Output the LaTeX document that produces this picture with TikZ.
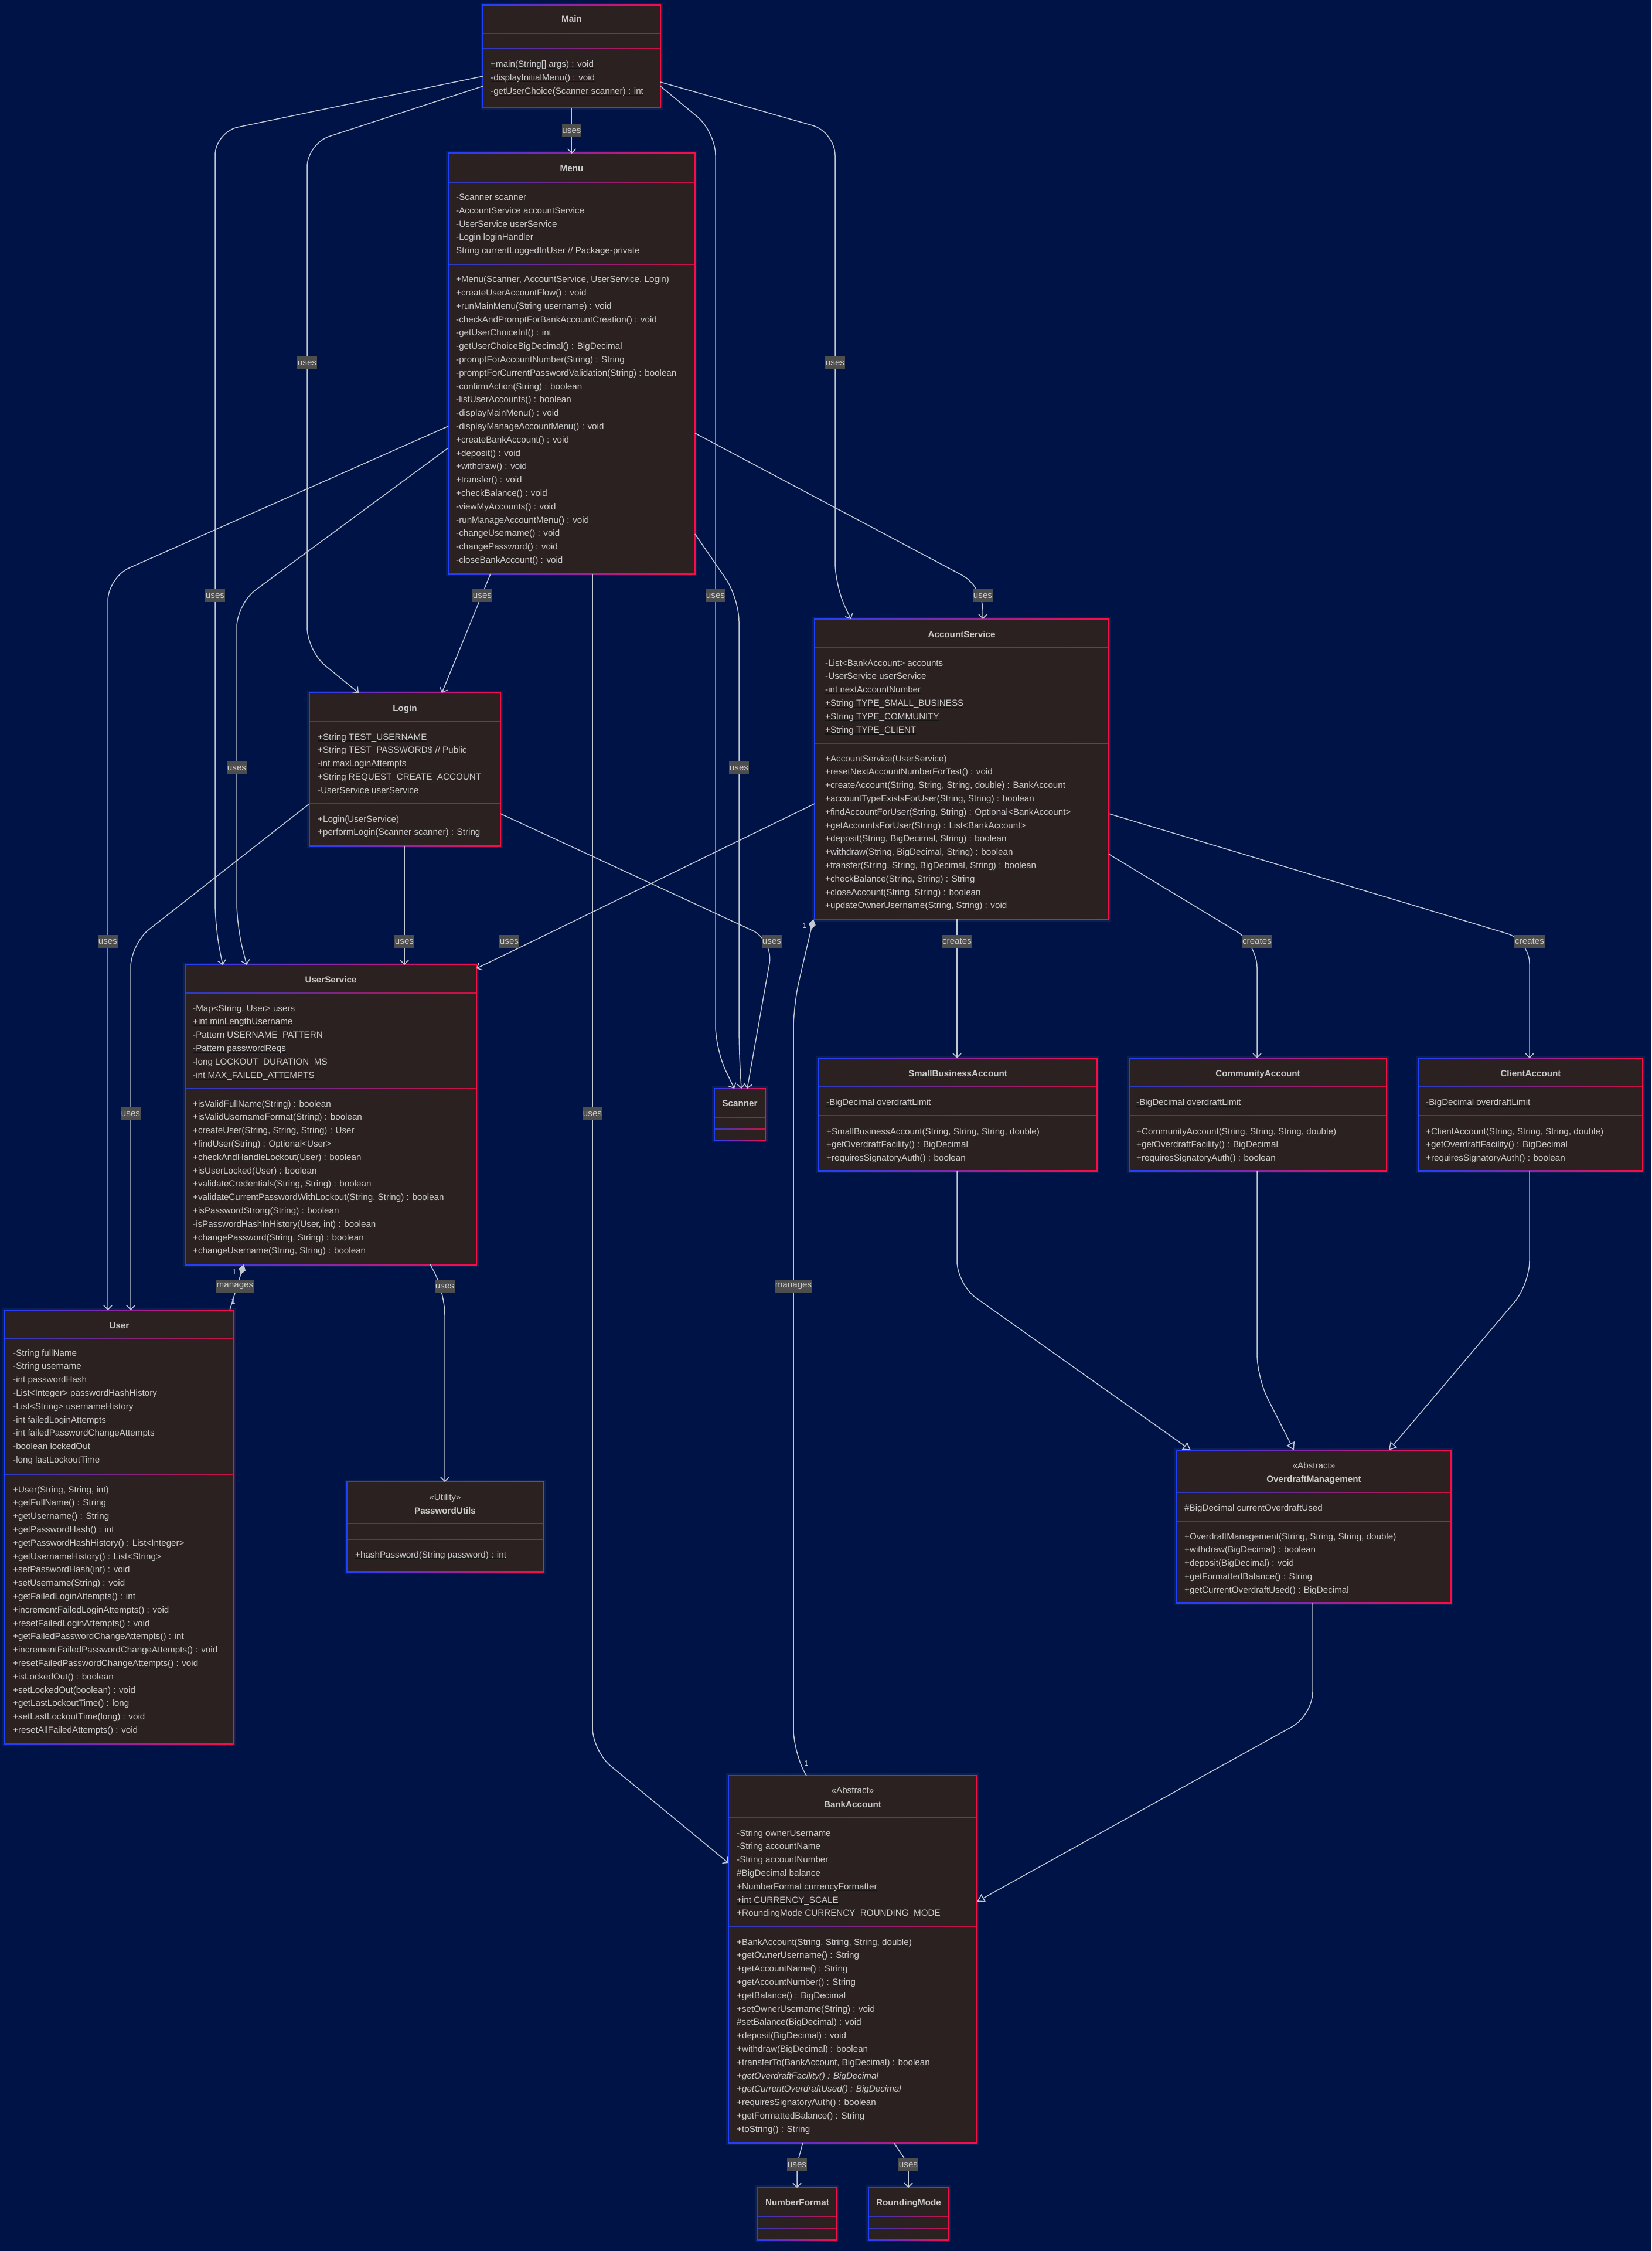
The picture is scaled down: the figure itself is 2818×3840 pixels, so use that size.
\documentclass[tikz,border=0pt]{standalone}
\usepackage{fontspec}
\setmainfont{Liberation Sans}
\usetikzlibrary{arrows.meta}

\definecolor{bg}{HTML}{001346}
\definecolor{boxbg}{HTML}{2B2121}
\definecolor{bordL}{HTML}{1E40FF}
\definecolor{bordR}{HTML}{FF0A46}
\definecolor{divL}{HTML}{2A3CC8}
\definecolor{divR}{HTML}{D0103E}
\definecolor{txt}{HTML}{CCCCCC}
\definecolor{linec}{HTML}{C4C8D0}
\definecolor{lblbg}{HTML}{4D4D4D}
\definecolor{ulc}{HTML}{151515}

\newcommand\mfont{\fontsize{15.2}{22.8}\selectfont}
\newcommand\bfont{\fontsize{15.2}{22.8}\selectfont\bfseries}
\newcommand\smfont{\fontsize{13}{15}\selectfont}

% one member line, a static (underlined) one, an abstract (italic) one
\newcommand\mem[1]{\hbox{#1}}
\newcommand\stat[1]{\setbox0=\hbox{#1}\rlap{\textcolor{ulc}{\rule[-2.6pt]{\wd0}{1.2pt}}}\box0}
\newcommand\abst[1]{\textit{#1}}

% class box: name, x1, y1, x2, y2, first divider, second divider
\newcommand\classbox[7]{%
  \fill[white,opacity=0.05] (#2-4,#3-4) rectangle (#4+4,#5+4);
  \shade[left color=bordL,right color=bordR] (#2-1,#3-1) rectangle (#4+1,#5+1);
  \fill[boxbg] (#2+1,#3+1) rectangle (#4-1,#5-1);
  \shade[left color=divL,right color=divR] (#2+1,#6-0.8) rectangle (#4-1,#6+0.8);
  \shade[left color=divL,right color=divR] (#2+1,#7-0.8) rectangle (#4-1,#7+0.8);
  \node[box,minimum width={#4-#2},minimum height={#5-#3}] (#1) at ({(#2+#4)/2},{(#3+#5)/2}) {};
}
% class title centred on a text line
\newcommand\ctitle[4]{\node[ttl] (#1) at (#2,#3+5) {#4};}
\newcommand\cstereo[4]{\node[stereo] (#1) at (#2,#3+5) {#4};}
% stacked member lines, first line centred at the given y
\newcommand\cmembers[4]{\node[memb] (#1) at (#2,#3+5)
  {\vtop{\baselineskip=22.8pt\lineskiplimit=-100pt\lineskip=0pt #4}};}

\tikzset{
  box/.style={inner sep=0pt,outer sep=0pt,draw=none,rectangle},
  ttl/.style={anchor=base,inner sep=0pt,text=txt,font=\bfont},
  stereo/.style={anchor=base,inner sep=0pt,text=txt,font=\mfont},
  memb/.style={anchor=base west,inner sep=0pt,text=txt,font=\mfont},
  edge/.style={draw=linec,line width=1.5pt,rounded corners=40pt},
  dep/.style={edge,-{Straight Barb[length=7pt,width=14pt]}},
  inh/.style={edge,-{Triangle[length=13pt,width=15pt,fill=bg]}},
  comp/.style={edge,{Diamond[length=18pt,width=12pt]}-},
  lbl/.style={fill=lblbg,text=txt,font=\mfont,inner xsep=0.8pt,inner ysep=0pt,
    minimum height=22pt},
  mult/.style={text=txt,font=\smfont,inner sep=0pt}
}

\begin{document}
\begin{tikzpicture}[x=1pt,y=-1pt]
\useasboundingbox (0,0) rectangle (2818,3840);
\fill[bg] (0,0) rectangle (2818,3840);

% ---------------- class boxes ----------------
\classbox{Main}{824}{9}{1127}{184}{57}{83}
\ctitle{tMain}{975.5}{33}{Main}
\cmembers{mMain}{837}{110}{%
  \mem{\stat{+main(String[] args) : void}}
  \mem{\stat{-displayInitialMenu() : void}}
  \mem{\stat{-getUserChoice(Scanner scanner) : int}}}

\classbox{Menu}{765}{262}{1186}{979}{311}{451}
\ctitle{tMenu}{975.5}{288}{Menu}
\cmembers{aMenu}{778}{336.5}{%
  \mem{-Scanner scanner}
  \mem{-AccountService accountService}
  \mem{-UserService userService}
  \mem{-Login loginHandler}
  \mem{String currentLoggedInUser // Package-private}}
\cmembers{mMenu}{778}{476.6}{%
  \mem{+Menu(Scanner, AccountService, UserService, Login)}
  \mem{+createUserAccountFlow() : void}
  \mem{+runMainMenu(String username) : void}
  \mem{-checkAndPromptForBankAccountCreation() : void}
  \mem{-getUserChoiceInt() : int}
  \mem{-getUserChoiceBigDecimal() : BigDecimal}
  \mem{-promptForAccountNumber(String) : String}
  \mem{-promptForCurrentPasswordValidation(String) : boolean}
  \mem{-confirmAction(String) : boolean}
  \mem{-listUserAccounts() : boolean}
  \mem{-displayMainMenu() : void}
  \mem{-displayManageAccountMenu() : void}
  \mem{+createBankAccount() : void}
  \mem{+deposit() : void}
  \mem{+withdraw() : void}
  \mem{+transfer() : void}
  \mem{+checkBalance() : void}
  \mem{-viewMyAccounts() : void}
  \mem{-runManageAccountMenu() : void}
  \mem{-changeUsername() : void}
  \mem{-changePassword() : void}
  \mem{-closeBankAccount() : void}}

\classbox{Login}{528}{1182}{854}{1443}{1231}{1371}
\ctitle{tLogin}{691}{1208}{Login}
\cmembers{aLogin}{542}{1257}{%
  \mem{\stat{+String TEST\_USERNAME}}
  \mem{+String TEST\_PASSWORD\$ // Public}
  \mem{\stat{-int maxLoginAttempts}}
  \mem{\stat{+String REQUEST\_CREATE\_ACCOUNT}}
  \mem{-UserService userService}}
\cmembers{mLogin}{542}{1397}{%
  \mem{+Login(UserService)}
  \mem{+performLogin(Scanner scanner) : String}}

\classbox{AccountService}{1390}{1056}{1892}{1568}{1105}{1268}
\ctitle{tAccountService}{1641}{1082}{AccountService}
\cmembers{aAccountService}{1408}{1131}{%
  \mem{-List<BankAccount> accounts}
  \mem{-UserService userService}
  \mem{\stat{-int nextAccountNumber}}
  \mem{\stat{+String TYPE\_SMALL\_BUSINESS}}
  \mem{\stat{+String TYPE\_COMMUNITY}}
  \mem{\stat{+String TYPE\_CLIENT}}}
\cmembers{mAccountService}{1408}{1294}{%
  \mem{+AccountService(UserService)}
  \mem{\stat{+resetNextAccountNumberForTest() : void}}
  \mem{+createAccount(String, String, String, double) : BankAccount}
  \mem{+accountTypeExistsForUser(String, String) : boolean}
  \mem{+findAccountForUser(String, String) : Optional<BankAccount>}
  \mem{+getAccountsForUser(String) : List<BankAccount>}
  \mem{+deposit(String, BigDecimal, String) : boolean}
  \mem{+withdraw(String, BigDecimal, String) : boolean}
  \mem{+transfer(String, String, BigDecimal, String) : boolean}
  \mem{+checkBalance(String, String) : String}
  \mem{+closeAccount(String, String) : boolean}
  \mem{+updateOwnerUsername(String, String) : void}}

\classbox{UserService}{316}{1646}{813}{2157}{1694}{1857}
\ctitle{tUserService}{564.5}{1671}{UserService}
\cmembers{aUserService}{329}{1720}{%
  \mem{-Map<String, User> users}
  \mem{\stat{+int minLengthUsername}}
  \mem{\stat{-Pattern USERNAME\_PATTERN}}
  \mem{\stat{-Pattern passwordReqs}}
  \mem{\stat{-long LOCKOUT\_DURATION\_MS}}
  \mem{\stat{-int MAX\_FAILED\_ATTEMPTS}}}
\cmembers{mUserService}{329}{1883}{%
  \mem{+isValidFullName(String) : boolean}
  \mem{+isValidUsernameFormat(String) : boolean}
  \mem{+createUser(String, String, String) : User}
  \mem{+findUser(String) : Optional<User>}
  \mem{+checkAndHandleLockout(User) : boolean}
  \mem{+isUserLocked(User) : boolean}
  \mem{+validateCredentials(String, String) : boolean}
  \mem{+validateCurrentPasswordWithLockout(String, String) : boolean}
  \mem{+isPasswordStrong(String) : boolean}
  \mem{-isPasswordHashInHistory(User, int) : boolean}
  \mem{+changePassword(String, String) : boolean}
  \mem{+changeUsername(String, String) : boolean}}

\classbox{User}{8}{2235}{399}{2975}{2284}{2515}
\ctitle{tUser}{203.5}{2261}{User}
\cmembers{aUser}{22}{2308}{%
  \mem{-String fullName}
  \mem{-String username}
  \mem{-int passwordHash}
  \mem{-List<Integer> passwordHashHistory}
  \mem{-List<String> usernameHistory}
  \mem{-int failedLoginAttempts}
  \mem{-int failedPasswordChangeAttempts}
  \mem{-boolean lockedOut}
  \mem{-long lastLockoutTime}}
\cmembers{mUser}{22}{2541}{%
  \mem{+User(String, String, int)}
  \mem{+getFullName() : String}
  \mem{+getUsername() : String}
  \mem{+getPasswordHash() : int}
  \mem{+getPasswordHashHistory() : List<Integer>}
  \mem{+getUsernameHistory() : List<String>}
  \mem{+setPasswordHash(int) : void}
  \mem{+setUsername(String) : void}
  \mem{+getFailedLoginAttempts() : int}
  \mem{+incrementFailedLoginAttempts() : void}
  \mem{+resetFailedLoginAttempts() : void}
  \mem{+getFailedPasswordChangeAttempts() : int}
  \mem{+incrementFailedPasswordChangeAttempts() : void}
  \mem{+resetFailedPasswordChangeAttempts() : void}
  \mem{+isLockedOut() : boolean}
  \mem{+setLockedOut(boolean) : void}
  \mem{+getLastLockoutTime() : long}
  \mem{+setLastLockoutTime(long) : void}
  \mem{+resetAllFailedAttempts() : void}}

\classbox{BankAccount}{1243}{3029}{1667}{3655}{3100}{3287}
\cstereo{sBankAccount}{1455}{3054}{«Abstract»}
\ctitle{tBankAccount}{1455}{3078}{BankAccount}
\cmembers{aBankAccount}{1257}{3127}{%
  \mem{-String ownerUsername}
  \mem{-String accountName}
  \mem{-String accountNumber}
  \mem{\#BigDecimal balance}
  \mem{\stat{+NumberFormat currencyFormatter}}
  \mem{\stat{+int CURRENCY\_SCALE}}
  \mem{\stat{+RoundingMode CURRENCY\_ROUNDING\_MODE}}}
\cmembers{mBankAccount}{1257}{3313}{%
  \mem{+BankAccount(String, String, String, double)}
  \mem{+getOwnerUsername() : String}
  \mem{+getAccountName() : String}
  \mem{+getAccountNumber() : String}
  \mem{+getBalance() : BigDecimal}
  \mem{+setOwnerUsername(String) : void}
  \mem{\#setBalance(BigDecimal) : void}
  \mem{+deposit(BigDecimal) : void}
  \mem{+withdraw(BigDecimal) : boolean}
  \mem{+transferTo(BankAccount, BigDecimal) : boolean}
  \mem{\abst{+getOverdraftFacility() : BigDecimal}}
  \mem{\abst{+getCurrentOverdraftUsed() : BigDecimal}}
  \mem{+requiresSignatoryAuth() : boolean}
  \mem{+getFormattedBalance() : String}
  \mem{+toString() : String}}

\classbox{SmallBusinessAccount}{1397}{1805}{1872}{1997}{1854}{1903}
\ctitle{tSmallBusinessAccount}{1634.5}{1831}{SmallBusinessAccount}
\cmembers{aSmallBusinessAccount}{1410}{1880}{\mem{\stat{-BigDecimal overdraftLimit}}}
\cmembers{mSmallBusinessAccount}{1410}{1930}{%
  \mem{+SmallBusinessAccount(String, String, String, double)}
  \mem{+getOverdraftFacility() : BigDecimal}
  \mem{+requiresSignatoryAuth() : boolean}}

\classbox{CommunityAccount}{1927}{1805}{2366}{1997}{1854}{1903}
\ctitle{tCommunityAccount}{2146.5}{1831}{CommunityAccount}
\cmembers{aCommunityAccount}{1939}{1880}{\mem{\stat{-BigDecimal overdraftLimit}}}
\cmembers{mCommunityAccount}{1939}{1930}{%
  \mem{+CommunityAccount(String, String, String, double)}
  \mem{+getOverdraftFacility() : BigDecimal}
  \mem{+requiresSignatoryAuth() : boolean}}

\classbox{ClientAccount}{2421}{1805}{2803}{1997}{1854}{1903}
\ctitle{tClientAccount}{2612}{1831}{ClientAccount}
\cmembers{aClientAccount}{2433}{1880}{\mem{\stat{-BigDecimal overdraftLimit}}}
\cmembers{mClientAccount}{2433}{1930}{%
  \mem{+ClientAccount(String, String, String, double)}
  \mem{+getOverdraftFacility() : BigDecimal}
  \mem{+requiresSignatoryAuth() : boolean}}

\classbox{PasswordUtils}{592}{2528}{927}{2681}{2599}{2626}
\cstereo{sPasswordUtils}{759.5}{2554}{«Utility»}
\ctitle{tPasswordUtils}{759.5}{2577}{PasswordUtils}
\cmembers{mPasswordUtils}{606}{2652}{\mem{\stat{+hashPassword(String password) : int}}}

\classbox{OverdraftManagement}{2008}{2474}{2476}{2734}{2546}{2595}
\cstereo{sOverdraftManagement}{2242}{2500}{«Abstract»}
\ctitle{tOverdraftManagement}{2242}{2523}{OverdraftManagement}
\cmembers{aOverdraftManagement}{2021}{2572}{\mem{\#BigDecimal currentOverdraftUsed}}
\cmembers{mOverdraftManagement}{2021}{2621}{%
  \mem{+OverdraftManagement(String, String, String, double)}
  \mem{+withdraw(BigDecimal) : boolean}
  \mem{+deposit(BigDecimal) : void}
  \mem{+getFormattedBalance() : String}
  \mem{+getCurrentOverdraftUsed() : BigDecimal}}

\classbox{NumberFormat}{1293}{3732}{1428}{3821}{3781}{3801}
\ctitle{tNumberFormat}{1360.5}{3757}{NumberFormat}

\classbox{RoundingMode}{1482}{3732}{1619}{3821}{3781}{3801}
\ctitle{tRoundingMode}{1550.5}{3757}{RoundingMode}

\classbox{Scanner}{1219}{1857}{1306}{1945}{1907}{1926}
\ctitle{tScanner}{1262.5}{1882}{Scanner}

% ---------------- relations ----------------
\draw[dep] (Main) -- (Menu);
\draw[dep] (Main.west |- 0,130) -- (367,225) -- (367,1580) -- (UserService.north -| 380,0);
\draw[dep] (Main.west |- 0,147) -- (524,245) -- (524,1110) -- (Login.north -| 612,0);
\draw[dep] (Main.east |- 0,147) -- (1221,225) -- (1221,1790) -- (Scanner.north -| 1253,0);
\draw[dep] (Main.east |- 0,140) -- (1425,225) -- (1425,1000) -- (AccountService.north -| 1452,0);

\draw[dep] (Menu.west |- 0,727) -- (184,985) -- (User.north -| 184,0);
\draw[dep] (Menu.west |- 0,764) -- (404,1030) -- (404,1580) -- (UserService.north -| 421,0);
\draw[dep] (Menu.south -| 837,0) -- (Login.north -| 754,0);
\draw[dep] (Menu.east |- 0,911) -- (1261,1020) -- (1261,1790) -- (Scanner.north -| 1265,0);
\draw[dep] (Menu.east |- 0,739) -- (1677,1000) -- (AccountService.north -| 1677,0);
\draw[dep] (Menu.south -| 1011,0) -- (1011,2987) -- (BankAccount.west |- 0,3178);

\draw[dep] (Login.west |- 0,1371) -- (223,1610) -- (User.north -| 223,0);
\draw[dep] (Login.south -| 690,0) -- (UserService.north -| 690,0);
\draw[dep] (Login.east |- 0,1388) -- (1320,1604) -- (Scanner.north -| 1275,0);

\draw[dep] (AccountService.west |- 0,1371) -- (900,1610) -- (UserService.east |- 0,1652);
\draw[dep] (AccountService.south -| 1633,0) -- (SmallBusinessAccount.north -| 1633,0);
\draw[dep] (AccountService.east |- 0,1457) -- (2145,1610) -- (CommunityAccount.north -| 2145,0);
\draw[dep] (AccountService.east |- 0,1388) -- (2610,1604) -- (ClientAccount.north -| 2610,0);
\draw[comp] (AccountService.south -| 1388,0) -- (1354,1714) -- (1354,2990) -- (BankAccount.north -| 1376,0);

\draw[comp] (UserService.south -| 416,0) -- (User.north -| 392,0);
\draw[dep] (UserService.south -| 734,0) -- (759,2203) -- (PasswordUtils.north -| 759,0);

\draw[inh] (SmallBusinessAccount.south -| 1633,0) -- (1633,2191) -- (OverdraftManagement.north -| 2032,0);
\draw[inh] (CommunityAccount.south -| 2145,0) -- (2145,2350) -- (OverdraftManagement.north -| 2208,0);
\draw[inh] (ClientAccount.south -| 2610,0) -- (2610,2191) -- (OverdraftManagement.north -| 2370,0);
\draw[inh] (OverdraftManagement.south -| 2240,0) -- (2240,2926) -- (BankAccount.east |- 0,3244);

\draw[dep,rounded corners=10pt] (BankAccount.south -| 1370,0) -- (1360,3692) -- (NumberFormat.north -| 1360,0);
\draw[dep,rounded corners=10pt] (BankAccount.south -| 1525,0) -- (1550,3692) -- (RoundingMode.north -| 1550,0);

% ---------------- relation labels ----------------
\node[lbl] (l1) at (975.5,223) {uses};
\node[lbl] (l2) at (367,1016) {uses};
\node[lbl] (l3) at (524,619) {uses};
\node[lbl] (l4) at (1221,1016) {uses};
\node[lbl] (l5) at (1425,619) {uses};
\node[lbl] (l6) at (184,1606) {uses};
\node[lbl] (l7) at (404,1310) {uses};
\node[lbl] (l8) at (823,1016) {uses};
\node[lbl] (l9) at (1261,1310) {uses};
\node[lbl] (l10) at (1677,1016) {uses};
\node[lbl] (l11) at (1011,1900) {uses};
\node[lbl] (l12) at (223,1900) {uses};
\node[lbl] (l13) at (690,1606) {uses};
\node[lbl] (l14) at (1317,1606) {uses};
\node[lbl] (l15) at (869,1606) {uses};
\node[lbl] (l16) at (1633,1606) {creates};
\node[lbl] (l17) at (2145,1606) {creates};
\node[lbl] (l18) at (2610,1606) {creates};
\node[lbl] (l19) at (1354,2194) {manages};
\node[lbl] (l20) at (401,2194) {manages};
\node[lbl] (l21) at (759,2194) {uses};
\node[lbl] (l22) at (1360,3693) {uses};
\node[lbl] (l23) at (1550,3693) {uses};

% multiplicities
\node[mult] (k1) at (1373,1579) {1};
\node[mult] (k2) at (1376,3008) {1};
\node[mult] (k3) at (400,2170) {1};
\node[mult] (k4) at (398,2220) {1};
\end{tikzpicture}
\end{document}
